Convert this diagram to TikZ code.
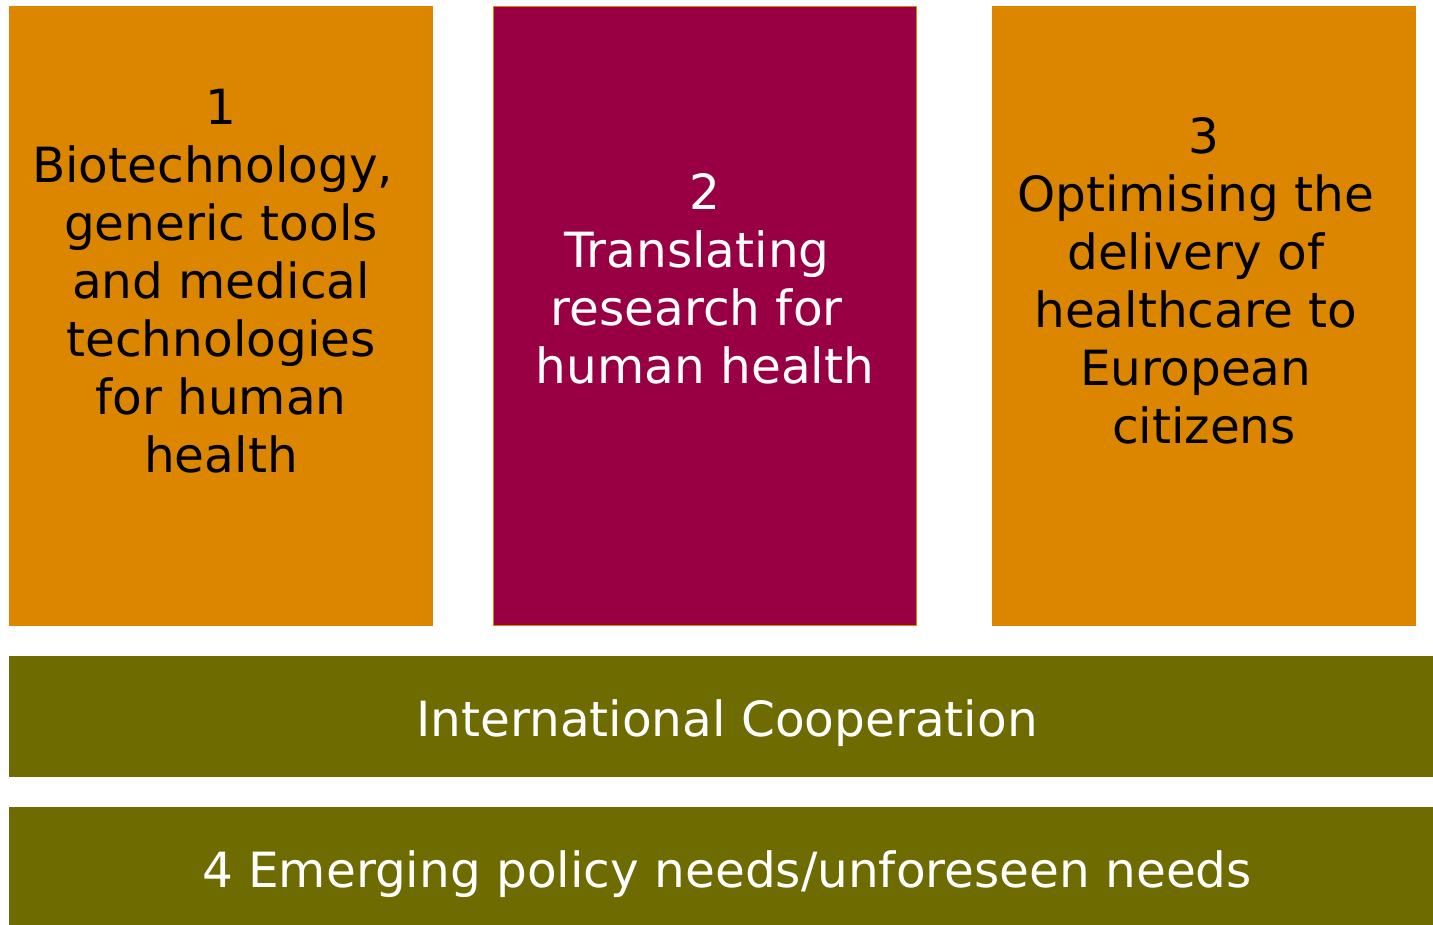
\documentclass[tikz,border=0pt]{standalone}
\usepackage{fontspec}
\setmainfont{DejaVu Sans}
\definecolor{boxorange}{HTML}{DC8600}
\definecolor{boxwine}{HTML}{990044}
\definecolor{boxolive}{HTML}{6E6B00}
\begin{document}
\begin{tikzpicture}[x=1pt,y=-1pt,
  lbl/.style={align=center,font=\fontsize{48.5}{58}\selectfont,inner sep=0pt},
]
\useasboundingbox (0,0) rectangle (1433,925);
\fill[white] (0,0) rectangle (1433,925);
\newcommand{\tsp}{\hbox to 0.34em{}}
% boxes
\fill[boxorange] (9,6) rectangle (433,626);
\filldraw[fill=boxwine,draw=boxorange,line width=1pt] (493.5,6.5) rectangle (916.5,625.5);
\fill[boxorange] (992,6) rectangle (1416,626);
\fill[boxolive] (9,656) rectangle (1433,777);
\fill[boxolive] (9,807) rectangle (1433,925);
% labels
\node[lbl,text=black] (t1) at (221,281) {1\\Biotechnology,\tsp\\generic tools\\and medical\\technologies\\for human\\health};
\node[lbl,text=white] (t2) at (705,279) {2\\Translating\tsp\\research for\tsp\\human health};
\node[lbl,text=black] (t3) at (1204,281) {3\\Optimising the\tsp\\delivery of\tsp\\healthcare to\tsp\\European\tsp\\citizens};
\node[lbl,text=white] (t4) at (727,723) {International Cooperation};
\node[lbl,text=white] (t5) at (727,874) {4 Emerging policy needs/unforeseen needs};
\end{tikzpicture}
\end{document}
